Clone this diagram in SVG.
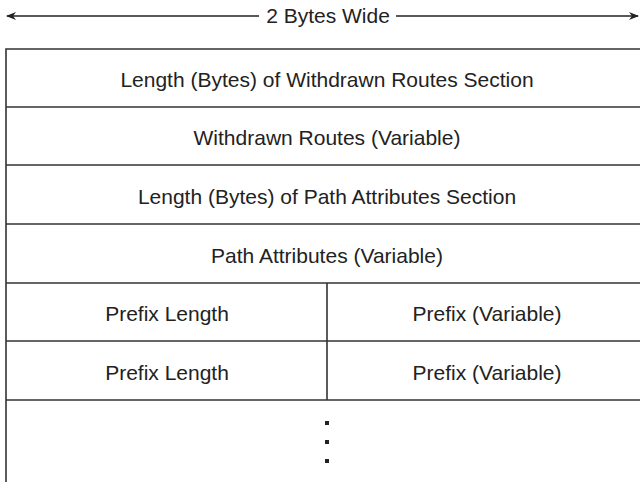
<svg xmlns="http://www.w3.org/2000/svg" width="640" height="482" viewBox="0 0 640 482">
<style>
.t{font-family:"Liberation Sans",Arial,sans-serif;font-size:21px;fill:#222;text-anchor:middle}
.b{fill:none;stroke:#333;stroke-width:1.6}
</style>
<defs>
<marker id="ah" viewBox="0 0 10 10" refX="9" refY="5" markerWidth="10" markerHeight="10" markerUnits="userSpaceOnUse" orient="auto-start-reverse">
<path d="M0,1 L10,5 L0,9 L3,5 Z" fill="#222"/>
</marker>
</defs>
<rect width="640" height="482" fill="#fff"/>
<g id="connectors">
<line x1="7" y1="16" x2="259" y2="16" stroke="#222" stroke-width="1.3" marker-start="url(#ah)"/>
<line x1="396" y1="16" x2="638" y2="16" stroke="#222" stroke-width="1.3" marker-end="url(#ah)"/>
</g>
<g id="width-label"><text class="t" x="328" y="23">2 Bytes Wide</text></g>
<g id="frame">
<path class="b" d="M6,482 V49 H648"/>
<line class="b" x1="6" y1="107" x2="648" y2="107"/>
<line class="b" x1="6" y1="165" x2="648" y2="165"/>
<line class="b" x1="6" y1="224" x2="648" y2="224"/>
<line class="b" x1="6" y1="283" x2="648" y2="283"/>
<line class="b" x1="6" y1="341" x2="648" y2="341"/>
<line class="b" x1="6" y1="400" x2="648" y2="400"/>
<line class="b" x1="327" y1="283" x2="327" y2="400"/>
</g>
<g id="row1"><text class="t" x="327" y="87">Length (Bytes) of Withdrawn Routes Section</text></g>
<g id="row2"><text class="t" x="327" y="145">Withdrawn Routes (Variable)</text></g>
<g id="row3"><text class="t" x="327" y="204">Length (Bytes) of Path Attributes Section</text></g>
<g id="row4"><text class="t" x="327" y="263">Path Attributes (Variable)</text></g>
<g id="row5a"><text class="t" x="167" y="321">Prefix Length</text></g>
<g id="row5b"><text class="t" x="487" y="321">Prefix (Variable)</text></g>
<g id="row6a"><text class="t" x="167" y="380">Prefix Length</text></g>
<g id="row6b"><text class="t" x="487" y="380">Prefix (Variable)</text></g>
<g id="row7" fill="#222">
<rect x="325" y="421" width="4" height="4"/>
<rect x="325" y="440" width="4" height="4"/>
<rect x="325" y="459" width="4" height="4"/>
</g>
</svg>
